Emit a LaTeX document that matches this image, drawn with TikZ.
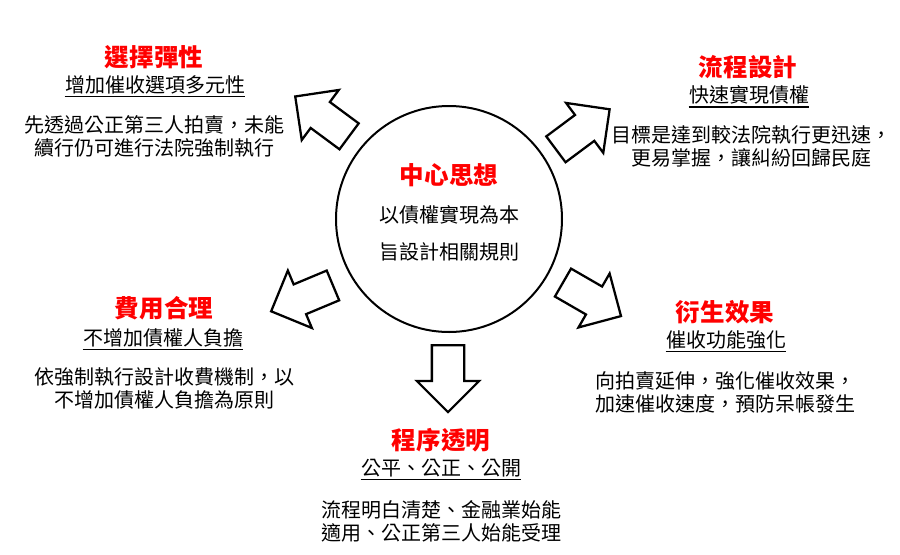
\documentclass[tikz,border=0pt]{standalone}
\usepackage{fontspec}
\setmainfont[Language=Chinese Traditional]{Noto Sans CJK TC}
\usepackage{tikz}
\usetikzlibrary{shapes.arrows}

\tikzset{
  headtext/.style={text=red,font=\bfseries\fontsize{18.4}{22}\selectfont},
  subtext/.style={font=\fontsize{15}{18}\selectfont,inner xsep=0pt,inner ysep=1.6pt},
  bodytext/.style={font=\fontsize{15}{17.25}\selectfont,align=center},
  ruleline/.style={line width=1.2pt},
  blockarrow/.style={single arrow,draw,line width=1.7pt,fill=white,
    inner xsep=0pt,inner ysep=11.25pt,minimum height=50.25pt,
    single arrow head extend=11.25pt,anchor=tail}
}

\begin{document}
\begin{tikzpicture}[x=0.75pt,y=-0.75pt]
                 \useasboundingbox (0,0) rectangle (900,554);
                 % center
                 \node[circle,draw,line width=1.5pt,minimum size=169.5pt](c)at(449,219){};
                 \node[headtext](ch)at(449,175){中心思想};
                 \node[bodytext,font=\fontsize{15}{27.75}\selectfont](cb)at(449,233.5){以債權實現為本\\旨設計相關規則};
                 % arrows
                 \node[blockarrow,rotate=143.5](a1)at(350,137){};
                 \node[blockarrow,rotate=36.7](a2)at(555,150){};
                 \node[blockarrow,rotate=202.7](a3)at(334,285){};
                 \node[blockarrow,rotate=-30](a4)at(562,282){};
                 \node[blockarrow,rotate=-90](a5)at(448,344){};
                 % top left
                 \node[headtext](h1)at(154,57){選擇彈性};
                 \node[subtext](s1)at(155,85){增加催收選項多元性};
                 \draw[ruleline](s1.south west)--(s1.south east);
                 \node[bodytext](b1)at(154,136.5){先透過公正第三人拍賣，未能\\續行仍可進行法院強制執行};
                 % top right
                 \node[headtext](h2)at(748,67){流程設計};
                 \node[subtext](s2)at(749,95){快速實現債權};
                 \draw[ruleline](s2.south west)--(s2.south east);
                 \node[bodytext](b2)at(751,146.5){目標是達到較法院執行更迅速，\\更易掌握，讓糾紛回歸民庭};
                 % lower left
                 \node[headtext](h3)at(164,308){費用合理};
                 \node[subtext](s3)at(163,338){不增加債權人負擔};
                 \draw[ruleline](s3.south west)--(s3.south east);
                 \node[bodytext](b3)at(164,388.5){依強制執行設計收費機制，以\\不增加債權人負擔為原則};
                 % lower right
                 \node[headtext](h4)at(725,312){衍生效果};
                 \node[subtext](s4)at(726,340){催收功能強化};
                 \draw[ruleline](s4.south west)--(s4.south east);
                 \node[bodytext](b4)at(725,392.5){向拍賣延伸，強化催收效果，\\加速催收速度，預防呆帳發生};
                 % bottom
                 \node[headtext](h5)at(441,440){程序透明};
                 \node[subtext](s5)at(441,468){公平、公正、公開};
                 \draw[ruleline](s5.south west)--(s5.south east);
                 \node[bodytext](b5)at(441,521){流程明白清楚、金融業始能\\適用、公正第三人始能受理};
\end{tikzpicture}
\end{document}
